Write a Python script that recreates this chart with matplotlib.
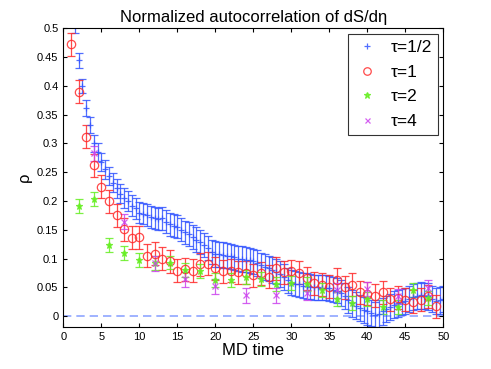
import matplotlib
matplotlib.use("Agg")
import matplotlib.pyplot as plt
import numpy as np

plt.rcParams['font.family'] = ['Liberation Sans', 'DejaVu Sans']

# tau = 1/2, sampled every 0.5 MD time from 1.5 to 50
t_half = np.arange(1.5, 50.01, 0.5)
rho_half = [0.505, 0.445, 0.400, 0.362, 0.332, 0.300, 0.285, 0.268, 0.255, 0.243,
            0.232, 0.222, 0.213, 0.205, 0.200, 0.192, 0.187, 0.180, 0.178, 0.176,
            0.172, 0.170, 0.168, 0.170, 0.164, 0.160, 0.157, 0.155, 0.150, 0.146,
            0.142, 0.138, 0.133, 0.128, 0.124, 0.118, 0.112, 0.108, 0.107, 0.106,
            0.105, 0.104, 0.102, 0.100, 0.099, 0.098, 0.097, 0.095, 0.092, 0.088,
            0.085, 0.083, 0.080, 0.077, 0.073, 0.068, 0.062, 0.058, 0.056, 0.055,
            0.053, 0.052, 0.051, 0.050, 0.050, 0.049, 0.049, 0.048, 0.046, 0.044,
            0.040, 0.035, 0.028, 0.022, 0.018, 0.014, 0.010, 0.008, 0.005, 0.002,
            0.004, 0.008, 0.012, 0.016, 0.020, 0.022, 0.024, 0.026, 0.030, 0.033,
            0.035, 0.036, 0.035, 0.034, 0.030, 0.026, 0.027, 0.030]
err_half = [0.012, 0.013, 0.013, 0.014, 0.014, 0.015, 0.015, 0.015, 0.016, 0.016,
            0.016, 0.016, 0.017, 0.017, 0.017, 0.018, 0.018, 0.018, 0.018, 0.019,
            0.019, 0.019, 0.019, 0.020, 0.020, 0.020, 0.020, 0.020, 0.020, 0.020,
            0.021, 0.021, 0.021, 0.021, 0.021, 0.021, 0.021, 0.022, 0.022, 0.022,
            0.022, 0.022, 0.022, 0.022, 0.022, 0.022, 0.022, 0.022, 0.022, 0.022,
            0.022, 0.022, 0.022, 0.022, 0.022, 0.022, 0.022, 0.022, 0.022, 0.022,
            0.022, 0.022, 0.022, 0.022, 0.022, 0.022, 0.022, 0.022, 0.022, 0.022,
            0.023, 0.023, 0.023, 0.023, 0.023, 0.023, 0.023, 0.023, 0.023, 0.023,
            0.023, 0.023, 0.023, 0.023, 0.023, 0.023, 0.023, 0.023, 0.023, 0.023,
            0.023, 0.023, 0.023, 0.023, 0.023, 0.023, 0.023, 0.023]

# tau = 1
t_one = np.arange(1, 50)
rho_one = [0.473, 0.390, 0.312, 0.262, 0.225, 0.200, 0.175, 0.151, 0.136, 0.137,
           0.105, 0.108, 0.100, 0.095, 0.079, 0.081, 0.079, 0.090, 0.091, 0.083,
           0.078, 0.079, 0.076, 0.075, 0.071, 0.074, 0.068, 0.083, 0.076, 0.078,
           0.075, 0.066, 0.057, 0.054, 0.051, 0.063, 0.050, 0.054, 0.041, 0.039,
           0.035, 0.041, 0.029, 0.032, 0.028, 0.025, 0.028, 0.034, 0.017]
err_one = 0.02

# tau = 2
t_two = np.arange(2, 49, 2)
rho_two = [0.192, 0.203, 0.124, 0.110, 0.097, 0.092, 0.093, 0.080, 0.078, 0.063,
           0.062, 0.068, 0.064, 0.056, 0.058, 0.056, 0.045, 0.029, 0.023, 0.029,
           0.015, 0.015, 0.045, 0.031]
err_two = 0.012

# tau = 4
t_four = np.arange(4, 49, 4)
rho_four = [0.283, 0.164, 0.092, 0.064, 0.052, 0.036, 0.036, 0.040, 0.045, 0.047,
            0.034, 0.049]
err_four = 0.013

fig = plt.figure(figsize=(4.91, 3.69), dpi=100)
ax = fig.add_axes([0.129, 0.1146, 0.774, 0.8082])

blue = '#3355ff'
red = '#ff2a2a'
green = '#66ee22'
purple = '#cc44ee'

ax.axhline(0, color='#8fa5ff', ls='--', lw=1.2, dashes=(5, 3), zorder=0)

kw = dict(ls='none', capsize=3, elinewidth=0.9, capthick=0.9, alpha=0.85)
ax.errorbar(t_half, rho_half, yerr=err_half, fmt='+', color=blue, ms=5, mew=0.9,
            label='τ=1/2', **kw)
ax.errorbar(t_one, rho_one, yerr=err_one, fmt='o', color=red, mfc='none', ms=6,
            mew=0.9, label='τ=1', **kw)
ax.errorbar(t_two, rho_two, yerr=err_two, fmt='*', color=green, ms=5, mew=0.9,
            label='τ=2', **kw)
ax.errorbar(t_four, rho_four, yerr=err_four, fmt='x', color=purple, ms=4, mew=0.9,
            label='τ=4', **kw)

ax.set_xlim(0, 50)
ax.set_ylim(-0.0186, 0.5)
ax.set_xticks(np.arange(0, 51, 5))
ax.set_yticks(np.arange(0, 0.501, 0.05))
ax.set_yticklabels(['0', '0.05', '0.1', '0.15', '0.2', '0.25', '0.3', '0.35',
                    '0.4', '0.45', '0.5'])
ax.tick_params(direction='in', top=True, right=True, labelsize=8, length=3)
ax.set_title('Normalized autocorrelation of dS/dη', fontsize=12, pad=5)
ax.set_xlabel('MD time', fontsize=12, labelpad=1)
ax.set_ylabel('ρ', fontsize=12)

handles, labels = ax.get_legend_handles_labels()
handles = [h[0] for h in handles]
leg = ax.legend(handles, labels, loc='upper right', fontsize=12.5, frameon=True,
                fancybox=False, edgecolor='black', borderaxespad=0.3,
                borderpad=0.35, handlelength=1.5, handletextpad=0.6,
                labelspacing=0.55, markerscale=0.9)
leg.get_frame().set_linewidth(0.8)

fig.savefig('out.png', dpi=100)
